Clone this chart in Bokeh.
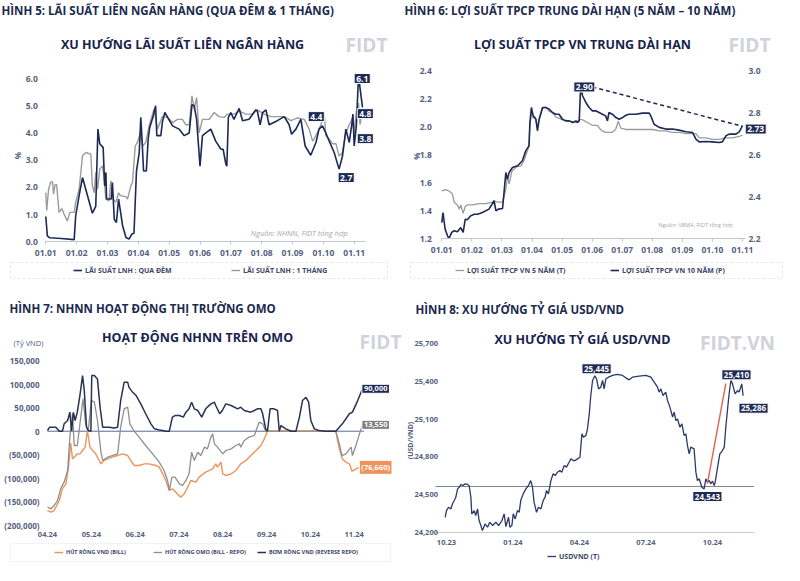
from bokeh.plotting import figure
from bokeh.models import (Range1d, LinearAxis, Label, Legend, LegendItem, BoxAnnotation,
                          FixedTicker, NumeralTickFormatter)
from bokeh.embed import file_html
from bokeh.resources import INLINE

# ---------------- DATA ----------------
# Figure 5: interbank rates (x = month index, 0 = 01.01)
p5_ticks = [0, 1, 2, 3, 4, 5, 6, 7, 8, 9, 10]
p5_tick_labels = ["01.01", "01.02", "01.03", "01.04", "01.05", "01.06", "01.07", "01.08", "01.09", "01.10", "01.11"]
p5_y_ticks = [0, 1, 2, 3, 4, 5, 6]
on_x = [0.00,0.05,0.12,0.50,0.92,0.97,1.08,1.19,1.51,1.62, 1.69,1.75,1.86,1.91,1.95,1.97,2.12,2.16,2.22,2.29,
        2.36,2.41,2.49,2.60,2.70,2.79,2.86,2.94,3.03,3.08, 3.12,3.17,3.26,3.32,3.37,3.48,3.56,3.60,3.73,3.78,
        3.86,4.11,4.32,4.49,4.65,4.74,4.81,4.89,5.00,5.08, 5.19,5.35,5.51,5.68,5.75,5.84,5.87,5.92,6.00,6.10,
        6.27,6.38,6.59,6.81,6.86,6.95,7.03,7.14,7.24,7.51, 7.73,7.89,7.97,8.11,8.27,8.41,8.59,8.76,8.86,8.97,
        9.08,9.19,9.35,9.51,9.62,9.73,9.84,9.92,9.96,10.00, 10.07,10.14,10.22,10.27]
on_y = [0.93,0.22,0.15,0.12,0.08,0.96,1.70,2.36,1.05,1.30, 4.14,3.60,3.46,2.05,2.55,1.57,1.57,2.18,0.83,0.71,
        1.57,1.20,0.59,0.16,0.10,0.28,0.32,2.60,3.28,4.57, 3.78,2.60,2.60,3.78,4.20,4.60,5.00,3.90,3.90,4.40,
        4.75,4.26,4.14,3.90,4.00,5.04,5.00,4.50,2.78,3.90, 4.00,4.14,3.70,3.40,3.40,2.85,2.78,4.57,4.75,4.50,
        4.90,4.45,4.50,4.85,4.80,4.30,4.75,4.85,4.30,4.45, 4.60,4.30,3.95,4.14,4.50,3.52,3.18,3.65,4.14,4.26,
        4.00,3.70,3.28,2.67,3.15,4.14,3.65,4.30,4.69,3.52, 4.26,6.10,5.37,4.94]
m1_x = [0.00,0.03,0.09,0.16,0.22,0.25,0.30,0.35,0.43,0.52, 0.59,0.70,0.78,0.92,0.97,1.08,1.19,1.30,1.46,1.51,
        1.57,1.62,1.68,1.75,1.84,1.89,1.95,2.05,2.11,2.18, 2.27,2.36,2.41,2.49,2.60,2.65,2.76,2.81,2.90,2.97,
        3.06,3.14,3.24,3.35,3.51,3.62,3.78,3.95,4.11,4.27, 4.43,4.54,4.65,4.74,4.81,4.89,4.97,5.08,5.30,5.46,
        5.62,5.78,5.89,6.10,6.27,6.49,6.70,6.86,7.08,7.30, 7.51,7.73,7.95,8.16,8.38,8.54,8.65,8.76,8.92,9.03,
        9.08,9.19,9.30,9.41,9.51,9.62,9.73,9.84,9.95,10.00, 10.07,10.14,10.19,10.24]
m1_y = [1.80,1.15,1.93,2.20,2.20,1.75,2.10,2.10,1.08,1.22, 1.02,0.77,1.08,1.08,1.45,1.93,3.16,3.28,3.22,2.06,
        1.80,2.55,1.93,2.67,2.79,2.30,1.57,1.50,2.24,1.57, 1.45,1.80,1.71,1.68,1.66,1.57,2.06,2.18,3.52,3.65,
        4.00,3.52,3.65,4.26,4.88,4.14,4.60,4.57,4.38,4.50, 4.50,4.30,4.30,5.36,4.88,5.30,4.00,4.50,4.50,4.75,
        4.60,4.57,4.69,4.69,4.80,4.69,4.69,4.85,4.69,4.60, 4.60,4.60,4.45,4.55,4.50,4.14,3.70,3.90,4.30,4.69,
        3.90,3.78,3.60,3.60,3.15,3.28,4.00,4.30,4.57,4.00, 4.80,5.10,4.30,4.69]
p5_callouts = [("6.1", 10.26, 6.0), ("4.8", 10.36, 4.71), ("3.8", 10.36, 3.79), ("2.7", 9.74, 2.36), ("4.4", 8.77, 4.6)]

# Figure 6: government bond yields
p6_ticks = p5_ticks
p6_tick_labels = p5_tick_labels
p6_left_ticks = [1.2, 1.4, 1.6, 1.8, 2.0, 2.2, 2.4]
p6_right_ticks = [2.2, 2.4, 2.6, 2.8, 3.0]
y5_x = [0.00,0.13,0.24,0.35,0.41,0.52,0.58,0.63,0.71,0.78, 0.85,1.02,1.24,1.46,1.69,1.74,1.85,2.02,2.13,2.18,
        2.24,2.33,2.46,2.63,2.74,2.85,2.90,2.93,2.98,3.04, 3.10,3.18,3.24,3.35,3.46,3.57,3.68,3.79,4.01,4.24,
        4.46,4.57,4.68,4.84,5.01,5.17,5.28,5.34,5.45,5.67, 5.78,5.87,5.95,6.12,6.34,6.56,6.78,7.01,7.23,7.45,
        7.67,7.90,8.12,8.34,8.45,8.56,8.78,9.00,9.22,9.45, 9.67,9.89,10.00]
y5_y = [1.54,1.55,1.54,1.52,1.46,1.44,1.41,1.44,1.38,1.43, 1.44,1.44,1.45,1.45,1.46,1.47,1.46,1.46,1.55,1.65,
        1.59,1.68,1.71,1.72,1.76,1.83,1.86,2.01,2.10,2.06, 2.07,1.99,2.06,2.13,2.14,2.11,2.10,2.07,2.05,2.04,
        2.03,2.05,2.05,2.03,2.01,2.01,1.98,1.97,1.96,1.96, 1.98,2.04,1.99,1.98,1.98,1.98,1.98,1.98,1.97,1.97,
        1.96,1.96,1.95,1.95,1.95,1.92,1.92,1.91,1.91,1.92, 1.92,1.93,1.94]
y10_x = [0.00,0.04,0.11,0.19,0.24,0.33,0.41,0.52,0.63,0.71, 0.78,0.85,0.96,1.08,1.19,1.35,1.57,1.74,1.80,1.88,
         2.02,2.07,2.13,2.18,2.24,2.35,2.52,2.68,2.79,2.90, 2.93,2.98,3.04,3.13,3.18,3.24,3.35,3.46,3.57,3.68,
         3.79,3.90,4.01,4.12,4.24,4.35,4.46,4.51,4.57,4.62, 4.68,4.79,4.90,5.01,5.12,5.23,5.34,5.45,5.51,5.56,
         5.67,5.79,5.90,6.01,6.12,6.23,6.45,6.67,6.90,6.95, 7.06,7.23,7.45,7.67,7.89,8.12,8.34,8.45,8.56,8.78,
         9.00,9.22,9.33,9.45,9.56,9.78,9.89,10.00]
y10_y = [2.276,2.324,2.245,2.213,2.200,2.229,2.237,2.232,2.252,2.229, 2.292,2.289,2.308,2.316,2.316,2.324,2.340,2.380,2.332,2.340,
         2.343,2.420,2.515,2.483,2.515,2.539,2.547,2.571,2.618,2.642, 2.753,2.825,2.785,2.769,2.714,2.769,2.825,2.825,2.817,2.801,
         2.793,2.793,2.769,2.761,2.761,2.753,2.761,2.753,2.761,2.930, 2.881,2.849,2.825,2.809,2.809,2.801,2.793,2.785,2.761,2.801,
         2.793,2.777,2.769,2.777,2.788,2.793,2.793,2.798,2.798,2.785, 2.745,2.730,2.722,2.722,2.717,2.709,2.706,2.674,2.661,2.663,
         2.661,2.658,2.661,2.690,2.698,2.698,2.709,2.738]
trend_x = [5.01, 10.0]
trend_y = [2.923, 2.735]

# Figure 7: SBV OMO (bn VND), x = month index, 0 = 04.24
p7_ticks = [0, 1, 2, 3, 4, 5, 6, 7]
p7_tick_labels = ["04.24", "05.24", "06.24", "07.24", "08.24", "09.24", "10.24", "11.24"]
p7_y_ticks = [-200000, -150000, -100000, -50000, 0, 50000, 100000, 150000]
p7_y_labels = ["(200,000)", "(150,000)", "(100,000)", "(50,000)", "0", "50,000", "100,000", "150,000"]
rr_x = [0.00,0.05,0.19,0.27,0.34,0.38,0.46,0.51,0.55,0.59, 0.63,0.68,0.74,0.80,0.84,0.89,0.93,0.99,1.01,1.07,
        1.14,1.20,1.26,1.33,1.41,1.52,1.60,1.67,1.75,1.83, 1.86,1.94,2.02,2.13,2.24,2.36,2.44,2.55,2.63,2.70,
        2.78,2.85,2.91,3.01,3.10,3.16,3.23,3.29,3.35,3.43, 3.52,3.61,3.73,3.81,3.84,3.93,3.99,4.07,4.19,4.34,
        4.41,4.49,4.64,4.72,4.79,4.87,4.91,4.98,5.02,5.08, 5.17,5.25,5.29,5.33,5.44,5.56,5.67,5.75,5.82,5.90,
        5.96,6.01,6.09,6.20,6.35,6.58,6.73,6.89,6.96,7.08, 7.19]
rr_y = [1500,8600,8600,0,0,15700,22700,40400,0,40000, 22700,40400,75800,118000,86000,8600,1500,0,118000,118000,
        111000,51000,8600,8600,8600,7000,8600,65000,104000,104000, 93000,83000,75800,58000,37000,15700,5000,2800,1500,0,
        0,29800,33300,33300,29800,40400,47500,61600,47500,43900, 29800,47500,58000,61600,54500,37000,43900,58000,54500,47500,
        51000,43900,40400,43900,47500,47500,37000,5000,0,47500, 47500,43900,0,12000,5000,0,0,29800,65000,72000,
        61600,22700,5000,1500,0,0,15700,37000,40400,65000, 90000]
net_x = [0.00,0.08,0.15,0.23,0.30,0.38,0.46,0.51,0.57,0.61, 0.68,0.74,0.81,0.87,0.93,1.00,1.07,1.14,1.22,1.26,
         1.37,1.48,1.60,1.67,1.75,1.83,1.88,1.98,2.09,2.24, 2.40,2.55,2.66,2.74,2.78,2.84,2.91,3.01,3.08,3.16,
         3.23,3.29,3.35,3.43,3.50,3.58,3.65,3.73,3.77,3.81, 3.88,4.00,4.07,4.19,4.30,4.38,4.41,4.49,4.60,4.72,
         4.83,4.91,4.98,6.58,6.66,6.72,6.81,6.93,6.96,7.04, 7.12,7.19]
net_y = [-161100,-164600,-157600,-147000,-122200,-108000,-83300,-12600,36900,-30300,
         -30300,15700,68700,15700,0,65000,61600,22700,-44500,-62100,
         -55100,-51600,-48000,8600,47500,51000,15700,0,-12600,-30300,
         -48000,-65600,-83300,-104500,-125700,-97500,-97500,-111600,-115200,-104500,
         -90400,-44500,-62100,-44500,-51600,-33800,-37400,-12600,-5600,-26800,
         -33800,-48000,-40900,-37400,-30300,-26800,-33800,-19700,-12600,-9100,
         19200,15700,0,0,-26800,-51600,-48000,-33800,-51600,-30300, -5600,13550]
bill_x = [0.00,0.08,0.15,0.27,0.34,0.42,0.48,0.53,0.57,0.61, 0.68,0.74,0.80,0.86,0.91,0.97,1.03,1.10,1.18,1.22,
          1.29,1.37,1.48,1.60,1.71,1.83,1.90,1.98,2.09,2.21, 2.32,2.47,2.55,2.63,2.70,2.78,2.85,2.93,3.04,3.12,
          3.20,3.27,3.39,3.46,3.61,3.77,3.84,3.88,3.96,4.00, 4.07,4.19,4.30,4.41,4.53,4.64,4.76,4.87,4.95,5.02,
          6.58,6.66,6.73,6.81,6.89,6.95,7.04,7.12,7.19]
bill_y = [-168200,-171700,-168200,-147000,-122200,-111600,-76300,-25000,-58600,-55100,
          -48000,-48000,-40900,-33800,1500,-33800,-40900,-48000,-62100,-69200,
          -62100,-58600,-55100,-51600,-48000,-51600,-62100,-72700,-72700,-69200,
          -69200,-72700,-76300,-90400,-104500,-125700,-122200,-129300,-139900,-132800,
          -118700,-104500,-108000,-97500,-86900,-79800,-69200,-76300,-65600,-90400,
          -93900,-90400,-83300,-69200,-62100,-51600,-40900,-30300,-16100,0,
          0,-37400,-58600,-65600,-69200,-84800,-79800,-76300,-76660]
zero_x = [0.0, 7.22]
zero_y = [0, 0]

# Figure 8: USD/VND, x = month index, 0 = 10.23
p8_ticks = [0, 3, 6, 9, 12]
p8_tick_labels = ["10.23", "01.24", "04.24", "07.24", "10.24"]
p8_y_ticks = [24200, 24500, 24800, 25100, 25400, 25700]
fx_x = [-0.06,0.00,0.09,0.20,0.27,0.35,0.42,0.50,0.57,0.65, 0.75,0.84,0.95,1.02,1.10,1.14,1.25,1.32,1.40,1.47,
        1.55,1.62,1.74,1.85,1.95,2.08,2.23,2.35,2.50,2.60, 2.68,2.80,2.86,2.95,3.01,3.10,3.20,3.28,3.35,3.46,
        3.58,3.70,3.80,3.88,3.95,4.06,4.15,4.26,4.36,4.45, 4.51,4.60,4.71,4.81,4.90,5.01,5.11,5.20,5.31,5.41,
        5.53,5.61,5.71,5.80,5.91,6.02,6.11,6.18,6.29,6.36, 6.44,6.51,6.59,6.69,6.77,6.86,6.96,7.04,7.11,7.19,
        7.31,7.49,7.71,7.94,8.09,8.24,8.39,8.69,8.99,9.22, 9.37,9.52,9.59,9.67,9.77,9.89,9.97,10.08,10.20,10.27,
        10.35,10.42,10.53,10.62,10.72,10.80,10.87,10.95,11.02,11.17, 11.25,11.32,11.40,11.52,11.62,11.70,11.77,11.85,11.92,12.00,
        12.08,12.12,12.23,12.33,12.45,12.53,12.60,12.68,12.75,12.83, 12.90,13.02,13.13,13.20,13.32,13.38]
fx_y = [24319,24372,24399,24386,24426,24452,24479,24545,24558,24580, 24572,24585,24580,24572,24479,24346,24372,24333,24386,24293,
        24253,24213,24266,24240,24280,24253,24280,24253,24293,24346, 24245,24319,24240,24253,24346,24306,24372,24359,24452,24505,
        24545,24572,24611,24558,24439,24359,24399,24386,24452,24479, 24532,24505,24611,24665,24651,24678,24691,24678,24731,24718,
        24757,24784,24771,24771,24784,24797,24983,24957,24970,25023, 25142,25288,25408,25445,25421,25341,25355,25408,25341,25421,
        25434,25448,25456,25448,25429,25413,25434,25442,25448,25434, 25395,25355,25315,25341,25288,25315,25249,25196,25116,25156,
        25089,25102,25036,25063,24970,24983,24890,24824,24877,24864, 24678,24611,24625,24558,24543,24625,24598,24611,24585,24606,
        24572,24598,24718,24824,24850,24877,25036,25182,25302,25410, 25381,25302,25328,25315,25381,25286]
fx_ref_x = [-0.5, 13.88]
fx_ref_y = [24564, 24564]
fx_trend_x = [11.77, 12.60]
fx_trend_y = [24586, 25382]

# ---------------- STYLE / LAYOUT ----------------
FONT = "Open Sans"
NAVY = "#1d2a55"
GREY = "#9b9b9b"
ORANGE = "#f0935a"
HEAD = "#1c2a4f"
TICK = "#56617d"
FW, FH = 784, 564


def xmap(d0, d1, px0, px1):
    k = (d1 - d0) / (px1 - px0)
    return Range1d(d0 - px0 * k, d0 + (FW - px0) * k)


def ymap(d0, d1, py0, py1):  # py are rows from the top of the canvas
    k = (d1 - d0) / (py0 - py1)
    return Range1d(d0 - (FH - py0) * k, d0 + py0 * k)


p = figure(width=FW, height=FH, x_range=Range1d(0, FW), y_range=Range1d(FH, 0),
           x_axis_location=None, y_axis_location=None, min_border=0,
           output_backend="svg", toolbar_location=None, outline_line_color=None)
p.xgrid.visible = False
p.ygrid.visible = False

p.extra_x_ranges = {
    "x5": xmap(0, 10, 45.3, 353.7),
    "x6": xmap(0, 10, 441.3, 742.0),
    "x7": xmap(0, 7, 47.0, 353.7),
    "x8": xmap(0, 12, 446.0, 712.0),
}
p.extra_y_ranges = {
    "y5": ymap(0, 6, 241.3, 78.0),
    "y6": ymap(1.2, 2.4, 238.0, 70.3),
    "y6r": ymap(2.2, 3.0, 238.0, 70.3),
    "y7": ymap(-200000, 150000, 525.0, 360.0),
    "y8": ymap(24200, 25700, 531.7, 343.3),
}


def axis(side, xr, yr, loc, ticks, size="8.5px", line=False, tickmarks=False, bounds="auto",
         standoff=5, overrides=None, fmt=None):
    ax = LinearAxis(x_range_name=xr, y_range_name=yr, fixed_location=loc, bounds=bounds,
                    ticker=FixedTicker(ticks=ticks))
    ax.major_label_text_font = FONT
    ax.major_label_text_font_size = size
    ax.major_label_text_color = TICK
    ax.major_label_text_font_style = "bold"
    ax.major_label_standoff = standoff
    ax.axis_line_color = "#c3c7cf" if line else None
    ax.major_tick_line_color = "#c3c7cf" if tickmarks else None
    ax.major_tick_out = 3 if tickmarks else 0
    ax.major_tick_in = 0
    ax.minor_tick_line_color = None
    if overrides is not None:
        ax.major_label_overrides = overrides
    if fmt is not None:
        ax.formatter = NumeralTickFormatter(format=fmt)
    p.add_layout(ax, side)


def text(x, y, s, size="11.5px", color=HEAD, align="left", style="bold", xr="default", yr="default", angle=0):
    p.add_layout(Label(x=x, y=y, text=s, text_align=align, text_baseline="middle",
                       text_font=FONT, text_font_size=size, text_font_style=style, angle=angle,
                       text_color=color, x_range_name=xr, y_range_name=yr))


def callout(s, x, y, xr, yr, color=NAVY, size="8.5px"):
    p.add_layout(Label(x=x, y=y, text=s, text_align="center", text_baseline="middle",
                       text_font=FONT, text_font_size=size, text_font_style="bold", text_color="white",
                       background_fill_color=color, border_line_color="white", border_line_width=1,
                       padding=2, x_range_name=xr, y_range_name=yr))


def legend(items, x, y, label_width, spacing, size="7px"):
    lg = Legend(items=items, orientation="horizontal", location=(x, y),
                label_text_font=FONT, label_text_font_size=size, label_text_font_style="bold",
                label_text_color="#3c4666", glyph_width=9, glyph_height=6, label_height=10,
                label_standoff=3, label_width=label_width, spacing=spacing, padding=0, margin=0,
                border_line_color=None, background_fill_alpha=0)
    p.add_layout(lg)


def box(l, r, t, b, dash="3 2", color="#a9adb5"):
    p.add_layout(BoxAnnotation(left=l, right=r, top=t, bottom=b, fill_alpha=0,
                               line_color=color, line_width=1, line_dash=dash))


VERT = 1.5708

# ---------------- FIGURE 5 ----------------
text(1, 10, "HÌNH 5: LÃI SUẤT LIÊN NGÂN HÀNG (QUA ĐÊM & 1 THÁNG)")
text(182, 44, "XU HƯỚNG LÃI SUẤT LIÊN NGÂN HÀNG", size="12.5px", color="#18234f", align="center")
text(366, 44, "FIDT", size="19px", color="#d0d3d9", align="center")
r1b = p.line(m1_x, m1_y, line_color=GREY, line_width=1.4, x_range_name="x5", y_range_name="y5")
r1a = p.line(on_x, on_y, line_color=NAVY, line_width=1.6, x_range_name="x5", y_range_name="y5")
axis("below", "x5", "y5", 0, p5_ticks, line=True, tickmarks=True, bounds=(0, 10.36),
     overrides=dict(zip(p5_ticks, p5_tick_labels)))
axis("left", "x5", "y5", 0, p5_y_ticks, fmt="0.0", standoff=8)
text(-0.92, 3.17, "%", size="8px", color=TICK, align="center", xr="x5", yr="y5", angle=VERT)
for s, x, y in p5_callouts:
    callout(s, x, y, "x5", "y5")
text(347, 232, "Nguồn: NHNN, FIDT tổng hợp", size="7.5px", color="#a3a7af", align="right", style="italic")
box(10, 387, 262, 278)
legend([LegendItem(label="LÃI SUẤT LNH : QUA ĐÊM", renderers=[r1a]),
        LegendItem(label="LÃI SUẤT LNH : 1 THÁNG", renderers=[r1b])], 73, 289, 126, 20)

# ---------------- FIGURE 6 ----------------
text(404, 10, "HÌNH 6: LỢI SUẤT TPCP TRUNG DÀI HẠN (5 NĂM – 10 NĂM)")
text(582, 44, "LỢI SUẤT TPCP VN TRUNG DÀI HẠN", size="12.5px", color="#18234f", align="center")
text(749, 44, "FIDT", size="19px", color="#d0d3d9", align="center")
r2a = p.line(y5_x, y5_y, line_color=GREY, line_width=1.3, x_range_name="x6", y_range_name="y6")
r2b = p.line(y10_x, y10_y, line_color=NAVY, line_width=1.6, x_range_name="x6", y_range_name="y6r")
p.line(trend_x, trend_y, line_color=NAVY, line_width=1.5, line_dash="4 3", x_range_name="x6", y_range_name="y6r")
axis("below", "x6", "y6", 1.2, p6_ticks, line=True, tickmarks=True, bounds=(0, 10.1),
     overrides=dict(zip(p6_ticks, p6_tick_labels)))
axis("left", "x6", "y6", 0, p6_left_ticks, fmt="0.0", standoff=10)
axis("right", "x6", "y6r", 10.1, p6_right_ticks, fmt="0.0", standoff=3)
text(-0.84, 1.79, "%", size="8px", color=TICK, align="center", xr="x6", yr="y6", angle=VERT)
callout("2.90", 4.74, 2.923, "x6", "y6r")
callout("2.73", 10.44, 2.722, "x6", "y6r")
text(732, 224, "Nguồn: VBMA, FIDT tổng hợp", size="5.5px", color="#a3a7af", align="right", style="normal")
box(410, 782, 262, 278)
legend([LegendItem(label="LỢI SUẤT TPCP VN 5 NĂM (T)", renderers=[r2a]),
        LegendItem(label="LỢI SUẤT TPCP VN 10 NĂM (P)", renderers=[r2b])], 455, 289, 123, 20)

# ---------------- FIGURE 7 ----------------
text(9, 308, "HÌNH 7: NHNN HOẠT ĐỘNG THỊ TRƯỜNG OMO")
text(197, 337, "HOẠT ĐỘNG NHNN TRÊN OMO", size="12.5px", color="#18234f", align="center")
text(380, 341, "FIDT", size="19px", color="#d0d3d9", align="center")
text(28, 342, "(Tỷ VND)", size="7.5px", color=TICK, align="center", style="normal")
p.line(zero_x, zero_y, line_color="#5b6a9c", line_width=1, x_range_name="x7", y_range_name="y7")
r3a = p.line(bill_x, bill_y, line_color=ORANGE, line_width=1.4, x_range_name="x7", y_range_name="y7")
r3b = p.line(net_x, net_y, line_color="#8f8f8f", line_width=1.3, x_range_name="x7", y_range_name="y7")
r3c = p.line(rr_x, rr_y, line_color="#283252", line_width=1.5, x_range_name="x7", y_range_name="y7")
axis("below", "x7", "y7", -200000, p7_ticks, size="7.5px", standoff=6,
     overrides=dict(zip(p7_ticks, p7_tick_labels)))
axis("left", "x7", "y7", 0, p7_y_ticks, size="8px", standoff=8,
     overrides=dict(zip(p7_y_ticks, p7_y_labels)))
callout("90,000", 7.49, 90000, "x7", "y7", size="7.5px")
callout("13,550", 7.49, 13550, "x7", "y7", color="#7e7e7e", size="7.5px")
callout("(76,660)", 7.49, -76660, "x7", "y7", color=ORANGE, size="7.5px")
box(10, 390, 543, 561, dash="solid", color="#d5d7dc")
legend([LegendItem(label="HÚT RÒNG VND (BILL)", renderers=[r3a]),
        LegendItem(label="HÚT RÒNG OMO (BILL - REPO)", renderers=[r3b]),
        LegendItem(label="BƠM RÒNG VND (REVERSE REPO)", renderers=[r3c])], 54, 7, 76, 11, size="5.5px")

# ---------------- FIGURE 8 ----------------
text(415, 309, "HÌNH 8: XU HƯỚNG TỶ GIÁ USD/VND")
text(582, 339, "XU HƯỚNG TỶ GIÁ USD/VND", size="12.5px", color="#18234f", align="center")
text(737, 342, "FIDT.VN", size="19px", color="#d0d3d9", align="center")
p.line(fx_ref_x, fx_ref_y, line_color="#7c8294", line_width=1, x_range_name="x8", y_range_name="y8")
r4 = p.line(fx_x, fx_y, line_color="#2b3a66", line_width=1.3, x_range_name="x8", y_range_name="y8")
p.line(fx_trend_x, fx_trend_y, line_color="#e4604f", line_width=1.4, x_range_name="x8", y_range_name="y8")
axis("below", "x8", "y8", 24200, p8_ticks, size="7.5px", line=True, bounds=(-0.5, 13.9), standoff=8,
     overrides=dict(zip(p8_ticks, p8_tick_labels)))
axis("left", "x8", "y8", -0.25, p8_y_ticks, size="7.5px", fmt="0,0", standoff=3)
text(-1.62, 24930, "(USD/VND)", size="7px", color=TICK, align="center", xr="x8", yr="y8", angle=VERT)
callout("25,445", 6.77, 25501, "x8", "y8", size="8px")
callout("25,410", 13.08, 25453, "x8", "y8", size="8px")
callout("25,286", 13.85, 25187, "x8", "y8", size="8px")
callout("24,543", 11.77, 24484, "x8", "y8", size="8px")
legend([LegendItem(label="USDVND (T)", renderers=[r4])], 547, 3, 40, 0)

open("out.html", "w").write(file_html(p, INLINE))
